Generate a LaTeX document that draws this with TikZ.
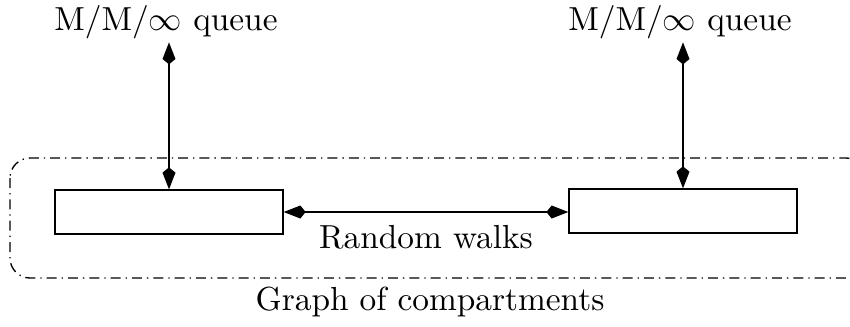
\documentclass[tikz,border=0pt]{standalone}
\usetikzlibrary{arrows.meta}
\tikzset{
  compart/.style={draw,minimum width=68.4pt,minimum height=13.2pt,inner sep=0pt},
  biarrow/.style={{Kite[length=6.6pt,width=3.9pt,inset=1.6pt]}-{Kite[length=6.6pt,width=3.9pt,inset=1.6pt]}},
}
\begin{document}
\begin{tikzpicture}[x=0.3pt,y=-0.3pt]
\useasboundingbox (0,0) rectangle (850,326);
% graph of compartments
\draw [dash pattern=on 3pt off 1.5pt on 0.4pt off 1.5pt,rounded corners=6pt] (10,158) rectangle (866,278);
\node (graph) at (430,302) {Graph of compartments};
\node [compart] (cleft) at (169,212) {};
\node [compart] (cright) at (683,211) {};
% queues
\node [anchor=base,inner sep=1pt] (qleft) at (166,30) {M/M/$\infty$ queue};
\node [anchor=base,inner sep=1pt] (qright) at (680,30) {M/M/$\infty$ queue};
\draw [biarrow] (cleft.north |- qleft.south) -- (cleft.north);
\draw [biarrow] (cright.north |- qright.south) -- (cright.north);
% random walks
\draw [biarrow] (cleft.east) -- (cright.west |- cleft.east) node [midway,below=0.5pt] (walks) {Random walks};
\end{tikzpicture}
\end{document}
